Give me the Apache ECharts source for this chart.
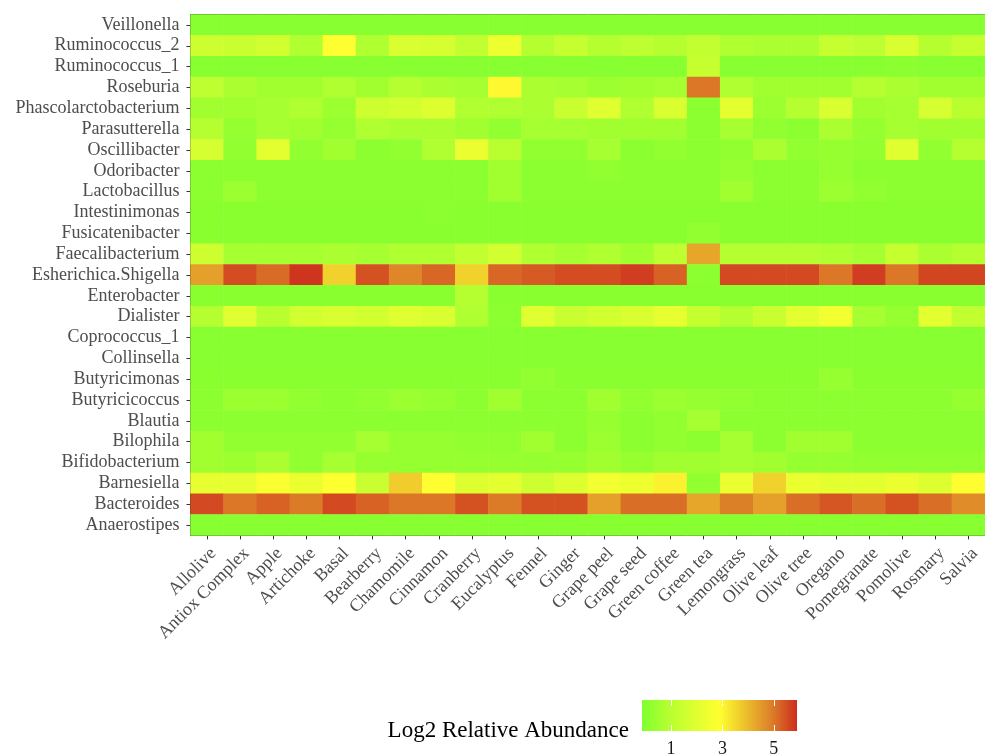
<!DOCTYPE html>
<html><head><meta charset="utf-8">
<script src="https://cdn.jsdelivr.net/npm/echarts@6/dist/echarts.min.js"></script>
<style>html,body{margin:0;padding:0;background:#fff}#c{width:985px;height:755px}</style>
</head><body><div id="c"></div>
<script>
const treatments = ["Allolive","Antiox Complex","Apple","Artichoke","Basal","Bearberry","Chamomile","Cinnamon","Cranberry","Eucalyptus","Fennel","Ginger","Grape peel","Grape seed","Green coffee","Green tea","Lemongrass","Olive leaf","Olive tree","Oregano","Pomegranate","Pomolive","Rosmary","Salvia"];
const taxa = ["Veillonella","Ruminococcus_2","Ruminococcus_1","Roseburia","Phascolarctobacterium","Parasutterella","Oscillibacter","Odoribacter","Lactobacillus","Intestinimonas","Fusicatenibacter","Faecalibacterium","Esherichica.Shigella","Enterobacter","Dialister","Coprococcus_1","Collinsella","Butyricimonas","Butyricicoccus","Blautia","Bilophila","Bifidobacterium","Barnesiella","Bacteroides","Anaerostipes"];

const veillonella      = [0,0,0,0,0,0,0,0,0,0,0,0,0,0,0,0,0,0,0,0,0,0,0,0];
const ruminococcus2    = [1.5,1.4,1.6,0.8,2.9,0.8,1.8,1.7,1.2,2.4,0.9,1.3,0.9,1.1,0.9,1.2,0.8,0.7,0.7,1.3,1.1,1.8,0.9,1.3];
const ruminococcus1    = [0,0,0,0,0,0,0,0,0,0,0,0,0,0,0,1.3,0,0,0,0,0,0.1,0,0];
const roseburia        = [1.1,0.7,0.5,0.5,0.8,0.5,0.9,0.7,0.6,3.0,0.7,0.6,0.4,0.5,0.6,5.0,0.8,0.5,0.5,0.5,0.9,0.7,0.5,0.5];
const phascolarcto     = [0.5,0.5,0.6,0.8,0.4,1.5,1.6,1.9,0.8,0.8,0.7,1.4,2.0,0.8,1.8,0.1,2.1,0.4,0.9,1.8,0.5,0.6,1.7,1.0];
const parasutterella   = [0.9,0.3,0.6,0.5,0.3,0.8,0.7,0.7,0.5,0.2,0.6,0.6,0.5,0.5,0.5,0.1,0.6,0.2,0.1,0.7,0.3,0.6,0.5,0.5];
const oscillibacter    = [1.7,0.2,2.1,0.2,0.5,0.1,0.2,0.8,2.3,1.0,0.2,0.2,0.6,0.1,0.2,0.1,0.2,0.7,0.2,0.3,0.2,2.0,0.2,0.9];
const odoribacter      = [0.1,0.1,0.1,0.1,0.1,0.1,0.1,0.1,0.1,0.5,0.1,0.1,0.2,0.1,0.1,0.1,0.3,0.1,0.1,0.3,0.1,0.1,0.1,0.1];
const lactobacillus    = [0.1,0.4,0.1,0.1,0.1,0.1,0.1,0.1,0.1,0.5,0.1,0.1,0.1,0.1,0.1,0.1,0.5,0.1,0.1,0.4,0.2,0.1,0.1,0.1];
const intestinimonas   = [0.05,0.05,0.05,0.05,0.05,0.05,0.05,0.1,0.05,0.05,0.05,0.05,0.05,0.05,0.05,0.05,0.05,0.05,0.05,0.05,0.05,0.05,0.05,0.05];
const fusicatenibacter = [0.05,0.05,0.05,0.05,0.05,0.05,0.05,0.05,0.05,0.05,0.05,0.05,0.05,0.05,0.05,0.2,0.05,0.05,0.05,0.05,0.05,0.05,0.05,0.05];
const faecalibacterium = [1.5,0.6,0.6,0.6,0.7,0.6,0.8,0.8,1.2,1.6,0.8,0.6,0.8,0.5,1.1,4.3,0.9,0.9,0.9,0.8,0.6,1.3,0.7,0.9];
const escherichia      = [4.4,5.5,5.15,5.8,3.6,5.45,4.8,5.2,3.6,5.2,5.35,5.5,5.5,5.7,5.25,0.1,5.55,5.55,5.55,5.0,5.7,5.0,5.6,5.6];
const enterobacter     = [0.05,0.05,0.05,0.05,0.05,0.05,0.05,0.05,0.9,0.05,0.05,0.05,0.05,0.05,0.05,0.05,0.05,0.05,0.05,0.05,0.05,0.05,0.05,0.05];
const dialister        = [0.9,2.0,1.0,1.6,1.8,1.6,2.0,1.8,0.8,0.1,2.0,1.4,1.6,1.8,2.2,1.3,0.9,1.4,2.1,2.5,0.6,0.3,2.1,1.2];
const coprococcus1     = [0,0,0,0,0,0,0,0,0,0,0,0,0,0,0,0,0,0,0,0,0,0,0,0];
const collinsella      = [0,0,0,0,0,0,0,0,0,0,0,0,0,0,0,0,0,0,0,0,0,0,0,0];
const butyricimonas    = [0.05,0.05,0.05,0.05,0.05,0.05,0.05,0.05,0.05,0.05,0.2,0.05,0.05,0.05,0.05,0.05,0.05,0.05,0.05,0.3,0.05,0.05,0.05,0.05];
const butyricicoccus   = [0.1,0.4,0.4,0.2,0.1,0.2,0.4,0.3,0.1,0.5,0.1,0.1,0.5,0.2,0.4,0.3,0.2,0.1,0.1,0.1,0.1,0.1,0.1,0.3];
const blautia          = [0.1,0.1,0.1,0.1,0.1,0.1,0.1,0.1,0.1,0.1,0.1,0.1,0.3,0.1,0.2,0.6,0.1,0.1,0.1,0.1,0.1,0.1,0.1,0.1];
const bilophila        = [0.5,0.2,0.2,0.2,0.2,0.6,0.3,0.3,0.2,0.2,0.5,0.1,0.4,0.1,0.2,0.1,0.6,0.1,0.5,0.5,0.1,0.1,0.1,0.1];
const bifidobacterium  = [0.5,0.4,0.7,0.2,0.6,0.3,0.3,0.3,0.3,0.3,0.3,0.3,0.5,0.3,0.5,0.5,0.6,0.5,0.3,0.3,0.2,0.2,0.2,0.2];
const barnesiella      = [2.2,2.2,2.7,2.3,2.8,1.4,3.7,2.9,1.9,2.1,1.5,1.9,2.5,2.4,3.1,0.2,2.3,3.6,2.3,2.1,2.1,2.3,1.9,2.9];
const bacteroides      = [5.55,5.0,5.25,4.95,5.55,5.25,5.0,5.0,5.45,4.95,5.45,5.45,4.4,5.1,5.1,4.3,4.9,4.4,5.1,5.4,5.1,5.45,5.1,4.7];
const anaerostipes     = [0,0,0,0,0,0,0,0,0,0,0,0,0,0,0,0,0,0,0,0,0,0,0,0];

const rowValues = [veillonella,ruminococcus2,ruminococcus1,roseburia,phascolarcto,parasutterella,oscillibacter,odoribacter,lactobacillus,intestinimonas,fusicatenibacter,faecalibacterium,escherichia,enterobacter,dialister,coprococcus1,collinsella,butyricimonas,butyricicoccus,blautia,bilophila,bifidobacterium,barnesiella,bacteroides,anaerostipes];

const scaleMin = -0.13, scaleMax = 5.9;
const scaleColors = ["#80ff30","#b4ff30","#dcff30","#ffff30","#ecc02c","#dc8028","#ce2c1e"];
const legendTicks = [1, 3, 5];
const legendTitle = "Log2 Relative Abundance";

const data = [];
rowValues.forEach((arr, r) => arr.forEach((v, c) => data.push([c, r, v])));

const FONT = "'Liberation Serif', 'DejaVu Serif', serif";
const chart = echarts.init(document.getElementById('c'));

// legend geometry
const LX = 642, LY = 700, LW = 155, LH = 31;
const lx = v => LX + (v - scaleMin) / (scaleMax - scaleMin) * LW;
const graphics = [];
graphics.push({type:'rect', shape:{x:LX, y:LY, width:LW, height:LH},
  style:{fill:new echarts.graphic.LinearGradient(0,0,1,0, scaleColors.map((c,i)=>({offset:i/(scaleColors.length-1), color:c})))}});
legendTicks.forEach(t => {
  const x = Math.round(lx(t)) + 0.5;
  graphics.push({type:'line', shape:{x1:x,y1:LY,x2:x,y2:LY+6}, style:{stroke:'#ffffff', lineWidth:1}});
  graphics.push({type:'line', shape:{x1:x,y1:LY+LH-6,x2:x,y2:LY+LH}, style:{stroke:'#ffffff', lineWidth:1}});
  graphics.push({type:'text', x: lx(t), y: 749, style:{text:String(t), font:"18px " + FONT, fill:'#1a1a1a', align:'center', verticalAlign:'middle'}});
});
graphics.push({type:'text', x: 629, y: 731, style:{text:legendTitle, font:"23px " + FONT, fill:'#000', align:'right', verticalAlign:'middle'}});

chart.setOption({
  backgroundColor:'#ffffff',
  animation:false,
  grid:{left:190.5, top:14.5, right:-8.8, bottom:219.6, show:true, borderColor:'#333333', borderWidth:1, containLabel:false},
  xAxis:{type:'category', data:treatments, position:'bottom',
    axisLine:{show:true, lineStyle:{color:'#333333'}},
    axisTick:{show:true, alignWithLabel:true, length:4, lineStyle:{color:'#333333'}},
    axisLabel:{rotate:45, interval:0, margin:9, align:'right', verticalAlign:'top', fontFamily:FONT, fontSize:18, color:'#4d4d4d'},
    splitLine:{show:false}},
  yAxis:{type:'category', data:taxa, inverse:true,
    axisLine:{show:true, lineStyle:{color:'#333333'}},
    axisTick:{show:true, alignWithLabel:true, length:4, lineStyle:{color:'#333333'}},
    axisLabel:{interval:0, margin:11, fontFamily:FONT, fontSize:18, color:'#4d4d4d'},
    splitLine:{show:false}},
  visualMap:{type:'continuous', show:false, min:scaleMin, max:scaleMax, inRange:{color:scaleColors}, seriesIndex:0},
  series:[{type:'heatmap', data:data, itemStyle:{borderWidth:0}, emphasis:{disabled:true}, progressive:0}],
  graphic:graphics
});
</script></body></html>
